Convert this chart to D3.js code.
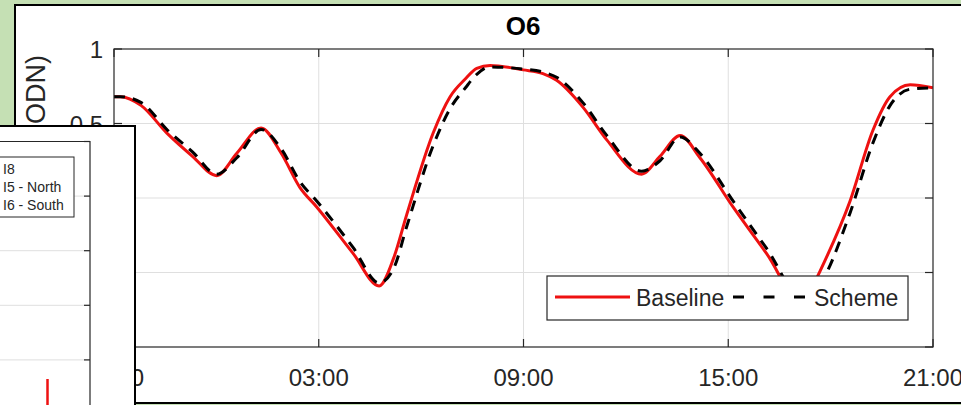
<!DOCTYPE html>
<html>
<head>
<meta charset="utf-8">
<script src="https://cdn.jsdelivr.net/npm/d3@7"></script>
<style>
  body { margin: 0; background: #c5e0b4; }
  svg { display: block; font-family: Arial, "Liberation Sans", sans-serif; }
</style>
</head>
<body>
<svg id="chart" width="961" height="405"></svg>
<script>
// hours after 21:00
const hours    = [0, 0.18, 0.8, 1.55, 2.3, 3.01, 3.6, 4.31, 4.9, 5.45, 5.94, 7.0, 7.77, 8.2, 8.58, 9.35, 9.85, 10.3, 10.63, 11.02, 11.99, 12.57, 12.97, 13.74, 14.44, 15.46, 16.0, 16.59, 17.17, 18.14, 19.13, 20.2, 20.63, 21.57, 22.24, 22.74, 23.33, 24];
const baseline = [0.68, 0.68, 0.62, 0.435, 0.28, 0.15, 0.3, 0.47, 0.3, 0.07, -0.06, -0.37, -0.59, -0.4, -0.11, 0.435, 0.68, 0.8, 0.87, 0.89, 0.86, 0.835, 0.79, 0.61, 0.39, 0.16, 0.28, 0.42, 0.27, -0.06, -0.375, -0.72, -0.52, -0.02, 0.455, 0.68, 0.76, 0.74];
const scheme   = [0.68, 0.68, 0.64, 0.46, 0.31, 0.16, 0.27, 0.46, 0.33, 0.11, -0.02, -0.33, -0.57, -0.47, -0.19, 0.35, 0.6, 0.74, 0.83, 0.88, 0.865, 0.845, 0.81, 0.64, 0.42, 0.18, 0.25, 0.41, 0.3, -0.02, -0.34, -0.68, -0.6, -0.1, 0.37, 0.62, 0.73, 0.74];

const xTicks = [0, 6, 12, 18, 24];
const xTickLabels = ["21:00", "03:00", "09:00", "15:00", "21:00"];
const yTicks = [-1, -0.5, 0, 0.5, 1];
const yTickLabels = ["-1", "-0.5", "0", "0.5", "1"];
const legendNames = ["Baseline", "Scheme"];

// the chart lying on top, bottom left
const innerTicks = [0.2, 0.4, 0.6, 0.8, 1];
const innerNames = ["I8", "I5 - North", "I6 - South"];
const spikeTime = 21;
const spike = [0, 0.13];

const svg = d3.select("#chart");
const axisCol = "#262626";

// white panel of the main figure
svg.append("rect")
  .attr("x", 15).attr("y", 5).attr("width", 970).attr("height", 398)
  .attr("fill", "#fff").attr("stroke", "#000").attr("stroke-width", 2);

const x = d3.scaleLinear().domain([0, 24]).range([114, 933]);
const y = d3.scaleLinear().domain([-1, 1]).range([347, 49]);

// grid
svg.append("g").selectAll("line").data(xTicks.slice(1, -1)).enter().append("line")
  .attr("x1", d => x(d)).attr("x2", d => x(d)).attr("y1", y(1)).attr("y2", y(-1))
  .attr("stroke", "#dfdfdf").attr("stroke-width", 1);
svg.append("g").selectAll("line").data(yTicks.slice(1, -1)).enter().append("line")
  .attr("x1", x(0)).attr("x2", x(24)).attr("y1", d => y(d)).attr("y2", d => y(d))
  .attr("stroke", "#dfdfdf").attr("stroke-width", 1);

svg.append("defs").append("clipPath").attr("id", "plotclip")
  .append("rect").attr("x", x(0)).attr("y", y(1)).attr("width", x(24) - x(0)).attr("height", y(-1) - y(1));

const line = d3.line()
  .x((d, i) => x(hours[i]))
  .y(d => y(d))
  .curve(d3.curveMonotoneX);

const plot = svg.append("g").attr("clip-path", "url(#plotclip)");
plot.append("path").datum(baseline).attr("d", line)
  .attr("fill", "none").attr("stroke", "#ee1111").attr("stroke-width", 3);
plot.append("path").datum(scheme).attr("d", line)
  .attr("fill", "none").attr("stroke", "#000").attr("stroke-width", 3)
  .attr("stroke-dasharray", "11,8");

// box + ticks
svg.append("rect")
  .attr("x", x(0)).attr("y", y(1)).attr("width", x(24) - x(0)).attr("height", y(-1) - y(1))
  .attr("fill", "none").attr("stroke", axisCol).attr("stroke-width", 1.2);

const tk = svg.append("g").attr("stroke", axisCol).attr("stroke-width", 1.2);
xTicks.forEach(t => {
  tk.append("line").attr("x1", x(t)).attr("x2", x(t)).attr("y1", y(-1)).attr("y2", y(-1) - 8);
  tk.append("line").attr("x1", x(t)).attr("x2", x(t)).attr("y1", y(1)).attr("y2", y(1) + 8);
});
yTicks.forEach(t => {
  tk.append("line").attr("x1", x(0)).attr("x2", x(0) + 8).attr("y1", y(t)).attr("y2", y(t));
  tk.append("line").attr("x1", x(24)).attr("x2", x(24) - 8).attr("y1", y(t)).attr("y2", y(t));
});

svg.append("g").selectAll("text").data(xTicks).enter().append("text")
  .attr("x", d => x(d)).attr("y", 386)
  .attr("text-anchor", "middle").attr("font-size", 24).attr("fill", axisCol)
  .text((d, i) => xTickLabels[i]);

svg.append("g").selectAll("text").data(yTicks).enter().append("text")
  .attr("x", 103).attr("y", d => y(d) + 9)
  .attr("text-anchor", "end").attr("font-size", 24).attr("fill", axisCol)
  .text((d, i) => yTickLabels[i]);

svg.append("text")
  .attr("transform", "translate(45,55) rotate(-90)")
  .attr("text-anchor", "end").attr("font-size", 27).attr("fill", axisCol)
  .text("Water Level (m ODN)");

svg.append("text")
  .attr("x", 523).attr("y", 35).attr("text-anchor", "middle")
  .attr("font-size", 26).attr("font-weight", "bold").attr("fill", "#000")
  .text("O6");

// legend
const lg = svg.append("g");
lg.append("rect").attr("x", 547).attr("y", 276).attr("width", 361).attr("height", 44)
  .attr("fill", "#fff").attr("stroke", axisCol).attr("stroke-width", 1.2);
lg.append("line").attr("x1", 555).attr("x2", 630).attr("y1", 297).attr("y2", 297)
  .attr("stroke", "#ee1111").attr("stroke-width", 3);
lg.append("text").attr("x", 636).attr("y", 306).attr("font-size", 23).attr("fill", axisCol).text(legendNames[0]);
lg.append("line").attr("x1", 733).attr("x2", 805).attr("y1", 297).attr("y2", 297)
  .attr("stroke", "#000").attr("stroke-width", 3).attr("stroke-dasharray", "11,19.5");
lg.append("text").attr("x", 814).attr("y", 306).attr("font-size", 23).attr("fill", axisCol).text(legendNames[1]);

// overlapping figure, bottom left
const ov = svg.append("g");
ov.append("rect").attr("x", -5).attr("y", 126).attr("width", 140).attr("height", 300)
  .attr("fill", "#fff").attr("stroke", "#000").attr("stroke-width", 2);

const iy = d3.scaleLinear().domain([0, 1]).range([414.5, 141.5]);
const ix = d3.scaleLinear().domain([0, 24]).range([-250, 90]);

ov.append("g").selectAll("line").data(innerTicks.slice(0, -1)).enter().append("line")
  .attr("x1", -5).attr("x2", 90).attr("y1", d => iy(d)).attr("y2", d => iy(d))
  .attr("stroke", "#dfdfdf");
ov.append("path")
  .attr("d", `M-5,${iy(1)}H${ix(24)}V410`)
  .attr("fill", "none").attr("stroke", axisCol).attr("stroke-width", 1.2);
ov.append("g").selectAll("line").data(innerTicks).enter().append("line")
  .attr("x1", ix(24) - 6).attr("x2", ix(24)).attr("y1", d => iy(d)).attr("y2", d => iy(d))
  .attr("stroke", axisCol).attr("stroke-width", 1.2);

ov.append("path").datum(spike)
  .attr("d", d3.line().x(() => ix(spikeTime)).y(d => iy(d)))
  .attr("stroke", "#ee1111").attr("stroke-width", 2.5);

ov.append("rect").attr("x", -5).attr("y", 157).attr("width", 79).attr("height", 60)
  .attr("fill", "#fff").attr("stroke", axisCol).attr("stroke-width", 1);
ov.append("g").selectAll("text").data(innerNames).enter().append("text")
  .attr("x", 3).attr("y", (d, i) => 174 + i * 18)
  .attr("font-size", 14).attr("fill", axisCol)
  .text(d => d);
</script>
</body>
</html>
